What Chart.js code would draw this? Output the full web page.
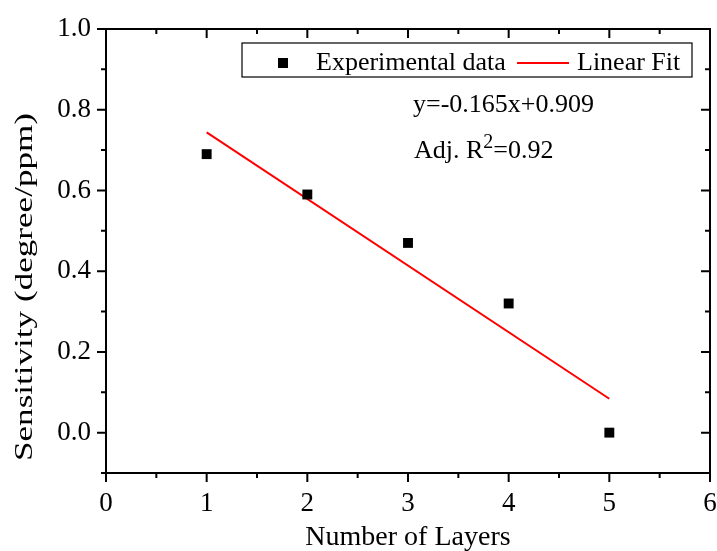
<!DOCTYPE html>
<html>
<head>
<meta charset="utf-8">
<script src="https://cdn.jsdelivr.net/npm/chart.js@4.4.1/dist/chart.umd.min.js"></script>
<style>
  html, body { margin: 0; padding: 0; background: #fff; }
  #wrap { width: 717px; height: 551px; }
</style>
</head>
<body>
<div id="wrap"><canvas id="chartCanvas" width="717" height="551"></canvas></div>
<script>
// measured sensitivity per number of layers
const layers = [1, 2, 3, 4, 5];
const sensitivity = [0.69, 0.59, 0.47, 0.32, 0.0];

// linear fit y = -0.165x + 0.909, drawn between the first and last layer
const fitX = [1, 5];
const fitY = [0.744, 0.084];
const fitText = 'y=-0.165x+0.909';
const r2Text = '=0.92';

const xMajor = [0, 1, 2, 3, 4, 5, 6];
const xMinor = [0.5, 1.5, 2.5, 3.5, 4.5, 5.5];
const yMajor = [0.0, 0.2, 0.4, 0.6, 0.8, 1.0];
const yMinor = [-0.1, 0.1, 0.3, 0.5, 0.7, 0.9];

const serif = '"Liberation Serif", "Times New Roman", serif';

// frame + origin style ticks (out on left/bottom, in on top/right)
const framePlugin = {
    id: 'frame',
    afterDraw(chart) {
        const ctx = chart.ctx;
        const a = chart.chartArea;
        const xs = chart.scales.x, ys = chart.scales.y;
        ctx.save();
        ctx.strokeStyle = '#000';
        ctx.lineWidth = 2;
        ctx.strokeRect(a.left, a.top, a.right - a.left, a.bottom - a.top);
        ctx.beginPath();
        const tickX = (vals, len) => vals.forEach(v => {
            const px = xs.getPixelForValue(v);
            ctx.moveTo(px, a.bottom); ctx.lineTo(px, a.bottom + len);
            ctx.moveTo(px, a.top); ctx.lineTo(px, a.top + len);
        });
        const tickY = (vals, len) => vals.forEach(v => {
            const py = ys.getPixelForValue(v);
            ctx.moveTo(a.left, py); ctx.lineTo(a.left - len, py);
            ctx.moveTo(a.right, py); ctx.lineTo(a.right - len, py);
        });
        tickX(xMajor, 9); tickX(xMinor, 5);
        tickY(yMajor, 9); tickY(yMinor, 5);
        ctx.stroke();
        ctx.restore();
    }
};

// legend box, fit equation and the stretched y title
const notesPlugin = {
    id: 'notes',
    afterDraw(chart) {
        const ctx = chart.ctx;
        const ds = chart.data.datasets;
        ctx.save();
        ctx.fillStyle = '#000';
        ctx.strokeStyle = '#000';
        ctx.lineWidth = 1.2;
        ctx.strokeRect(242, 43, 450, 34);

        ctx.fillStyle = ds[0].backgroundColor;
        ctx.fillRect(278, 58, 10, 10);
        ctx.strokeStyle = ds[1].borderColor;
        ctx.lineWidth = 2;
        ctx.beginPath(); ctx.moveTo(517, 63); ctx.lineTo(569, 63); ctx.stroke();

        ctx.fillStyle = '#000';
        ctx.font = '26px ' + serif;
        ctx.textBaseline = 'alphabetic';
        ctx.fillText(ds[0].label, 316, 70);
        ctx.fillText(ds[1].label, 577, 70);

        ctx.fillText(fitText, 413, 112);
        let x = 414;
        ctx.fillText('Adj. R', x, 158);
        x += ctx.measureText('Adj. R').width;
        ctx.font = '20px ' + serif;
        ctx.fillText('2', x, 148);
        x += ctx.measureText('2').width;
        ctx.font = '26px ' + serif;
        ctx.fillText(r2Text, x, 158);

        ctx.translate(25, 287);
        ctx.rotate(-Math.PI / 2);
        ctx.scale(1.35, 1);
        ctx.textAlign = 'center';
        ctx.textBaseline = 'middle';
        ctx.fillText('Sensitivity (degree/ppm)', 0, 0);
        ctx.restore();
    }
};

const ctx = document.getElementById('chartCanvas').getContext('2d');
const chart = new Chart(ctx, {
    type: 'scatter',
    data: {
        datasets: [{
            label: 'Experimental data',
            data: layers.map((v, i) => ({ x: v, y: sensitivity[i] })),
            pointStyle: 'rect',
            pointRadius: 7,
            backgroundColor: '#000',
            borderColor: '#000',
            borderWidth: 0,
            order: 1
        }, {
            label: 'Linear Fit',
            type: 'line',
            data: fitX.map((v, i) => ({ x: v, y: fitY[i] })),
            borderColor: '#ff0000',
            borderWidth: 2,
            pointRadius: 0,
            fill: false,
            order: 2
        }]
    },
    options: {
        responsive: false,
        animation: false,
        layout: { padding: { top: 29, right: 5, left: 0, bottom: 0 } },
        plugins: { legend: { display: false }, tooltip: { enabled: false } },
        scales: {
            x: {
                type: 'linear',
                min: 0,
                max: 6,
                afterBuildTicks: s => { s.ticks = xMajor.map(v => ({ value: v })); },
                afterFit: s => { s.height = 78; s.paddingLeft = 0; s.paddingRight = 0; },
                grid: { display: false, drawTicks: false },
                border: { display: false },
                ticks: {
                    padding: 15,
                    color: '#000',
                    font: { family: serif, size: 27 },
                    callback: v => String(v)
                },
                title: {
                    display: true,
                    text: 'Number of Layers',
                    color: '#000',
                    font: { family: serif, size: 28 },
                    padding: { top: 0, bottom: -3 }
                }
            },
            y: {
                type: 'linear',
                min: -0.1,
                max: 1.0,
                afterBuildTicks: s => { s.ticks = yMajor.map(v => ({ value: v })); },
                afterFit: s => { s.width = 106; s.paddingTop = 0; s.paddingBottom = 0; },
                grid: { display: false, drawTicks: false },
                border: { display: false },
                ticks: {
                    padding: 15,
                    color: '#000',
                    font: { family: serif, size: 27 },
                    callback: v => v.toFixed(1)
                }
            }
        }
    },
    plugins: [framePlugin, notesPlugin]
});
</script>
</body>
</html>
